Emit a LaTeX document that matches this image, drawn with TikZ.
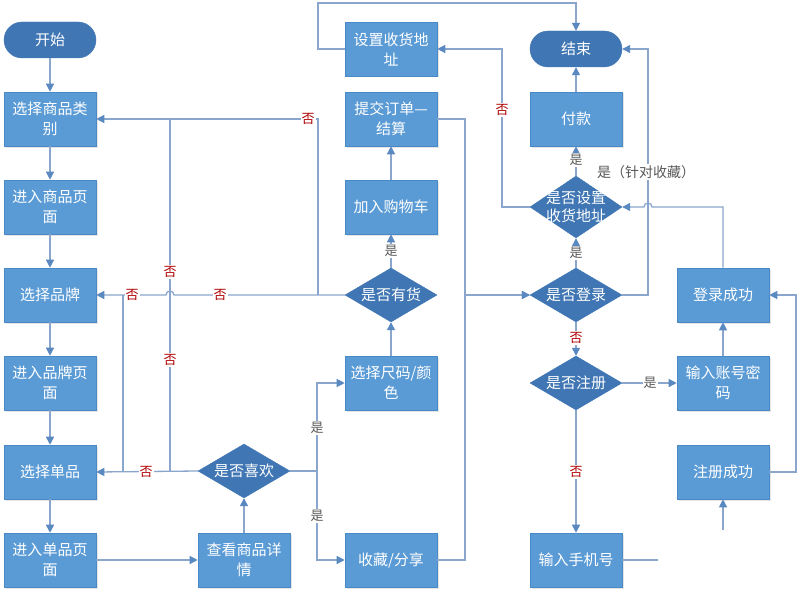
\documentclass[tikz,border=0pt]{standalone}
\usepackage{fontspec}
\newfontfamily\cjk{Noto Sans CJK SC}
\usetikzlibrary{arrows.meta,shapes.geometric,shadows}
\definecolor{boxc}{HTML}{5B9BD5}
\definecolor{boxd}{HTML}{4A89C8}
\definecolor{darkc}{HTML}{3F76B3}
\definecolor{linec}{HTML}{8AA6CC}
\definecolor{tipc}{HTML}{5A88C0}
\definecolor{noc}{HTML}{B00000}
\definecolor{yesc}{HTML}{595959}
\begin{document}
\begin{tikzpicture}[x=1pt,y=-1pt,
 box/.style={rectangle, fill=boxc, draw=boxd, line width=0.6pt, minimum width=92pt, minimum height=54pt, inner sep=0pt, text=white, align=center, font=\cjk\fontsize{15}{20}\selectfont, drop shadow={opacity=0.2, shadow xshift=1.5pt, shadow yshift=-1.5pt}},
 term/.style={rectangle, rounded corners=18pt, fill=darkc, draw=darkc, minimum width=92pt, minimum height=36pt, inner sep=0pt, text=white, font=\cjk\fontsize{15}{20}\selectfont},
 dia/.style={diamond, fill=darkc, draw=darkc, inner sep=0pt, minimum width=92pt, minimum height=54pt},
 dtext/.style={text=white, align=center, font=\cjk\fontsize{15}{18}\selectfont, inner sep=0pt},
 conn/.style={draw=linec, line width=1.3pt},
 arr/.style={conn, -{Triangle[length=8pt,width=8pt,color=tipc]}},
 nolab/.style={fill=white, text=noc, font=\cjk\fontsize{13}{13}\selectfont, inner sep=1pt},
 yeslab/.style={fill=white, text=yesc, font=\cjk\fontsize{13}{13}\selectfont, inner sep=1pt},
]
\fill[white] (0,0) rectangle (799,591);
\useasboundingbox (0,0) rectangle (799,591);

% nodes
\node[term] (start) at (50,40) {开始};
\node[box] (cat) at (50,119) {选择商品类\\别};
\node[box] (catpage) at (50,207) {进入商品页\\面};
\node[box] (brand) at (50,295) {选择品牌};
\node[box] (brandpage) at (50,383) {进入品牌页\\面};
\node[box] (item) at (50,472) {选择单品};
\node[box] (itempage) at (50,560) {进入单品页\\面};
\node[box] (detail) at (244,560) {查看商品详\\情};
\node[dia, label={[dtext]center:是否喜欢}] (like) at (244,471) {};
\node[box] (addr) at (391,49) {设置收货地\\址};
\node[box] (order) at (391,119) {提交订单—\\结算};
\node[box] (cart) at (391,207) {加入购物车};
\node[dia, label={[dtext]center:是否有货}] (stock) at (391,295) {};
\node[box] (size) at (391,383) {选择尺码/颜\\色};
\node[box] (fav) at (391,560) {收藏/分享};
\node[term] (stop) at (576,49) {结束};
\node[box] (pay) at (576,119) {付款};
\node[dia, minimum height=62pt, label={[dtext]center:{是否设置\\收货地址}}] (qaddr) at (576,207) {};
\node[dia, label={[dtext]center:是否登录}] (qlogin) at (576,295) {};
\node[dia, label={[dtext]center:是否注册}] (qreg) at (576,383) {};
\node[box] (phone) at (576,560) {输入手机号};
\node[box] (loginok) at (723,295) {登录成功};
\node[box] (acct) at (723,383) {输入账号密\\码};
\node[box] (regok) at (723,472) {注册成功};

% helper coordinates
\coordinate (jl) at (317,471);
\coordinate (jr) at (465,295);
\coordinate (ja) at (318,295);
\coordinate (jb) at (123,472);
\coordinate (jc) at (170,472);
\coordinate (ph) at (658,560);
\coordinate (rg) at (723,530);

% left column
\draw[arr] (start) -- (cat);
\draw[arr] (cat) -- (catpage);
\draw[arr] (catpage) -- (brand);
\draw[arr] (brand) -- (brandpage);
\draw[arr] (brandpage) -- (item);
\draw[arr] (item) -- (itempage);
\draw[arr] (itempage) -- (detail);
\draw[arr] (detail) -- (like);

% like: no
\draw[arr] (like.west) -- (item.east);
\draw[conn] (jb) -- (jb |- brand.east);
\draw[conn] (jc) -- (jc |- cat.east);
% stock: no
\draw[arr] (stock.west) -- (174,295) arc[start angle=0,end angle=180,radius=4pt] -- (brand.east);
\draw[arr] (ja) -- (ja |- cat.east) -- (cat.east);

% like: yes
\draw[arr] (like.east) -- (jl) |- (size.west);
\draw[arr] (like.east) -- (jl) |- (fav.west);

% middle column
\draw[arr] (size) -- (stock);
\draw[arr] (stock) -- (cart);
\draw[arr] (cart) -- (order);
\draw[arr] (order.east) -| (jr) -- (qlogin.west);
\draw[arr] (fav.east) -| (jr) -- (qlogin.west);
\draw[arr] (addr.west) -- (318,49) -- (318,3) -| (stop.north);

% right columns
\draw[arr] (qaddr.west) -- (502,207) -- (502,49) -- (addr.east);
\draw[arr] (qlogin) -- (qaddr);
\draw[arr] (qaddr) -- (pay);
\draw[arr] (pay) -- (stop);
\draw[arr] (qlogin.east) -- (648,295) -- (648,49) -- (stop.east);
\draw[arr] (loginok.north) -- (723,207) -- (652,207) arc[start angle=0,end angle=180,radius=4pt] -- (qaddr.east);
\draw[arr] (qlogin) -- (qreg);
\draw[arr] (qreg) -- (acct);
\draw[arr] (qreg) -- (phone);
\draw[arr] (acct) -- (loginok);
\draw[arr] (regok.east) -- (796,472) -- (796,295) -- (loginok.east);
\draw[conn] (phone.east) -- (ph);
\draw[arr] (rg) -- (regok.south);

% labels
\node[nolab] (n1) at (146,472) {否};
\node[nolab] (n2) at (132,295) {否};
\node[nolab] (n3) at (220,295) {否};
\node[nolab] (n4) at (170,272) {否};
\node[nolab] (n5) at (170,360) {否};
\node[nolab] (n6) at (308,119) {否};
\node[nolab] (n7) at (502,110) {否};
\node[nolab] (n8) at (576,338) {否};
\node[nolab] (n9) at (576,472) {否};
\node[yeslab] (y1) at (317,428) {是};
\node[yeslab] (y2) at (317,516) {是};
\node[yeslab] (y3) at (391,251) {是};
\node[yeslab] (y4) at (576,160) {是};
\node[yeslab] (y5) at (576,253) {是};
\node[yeslab] (y6) at (650,383) {是};
\node[yeslab, font=\cjk\fontsize{14}{14}\selectfont] (y7) at (646,172) {是（针对收藏）};
\end{tikzpicture}
\end{document}
